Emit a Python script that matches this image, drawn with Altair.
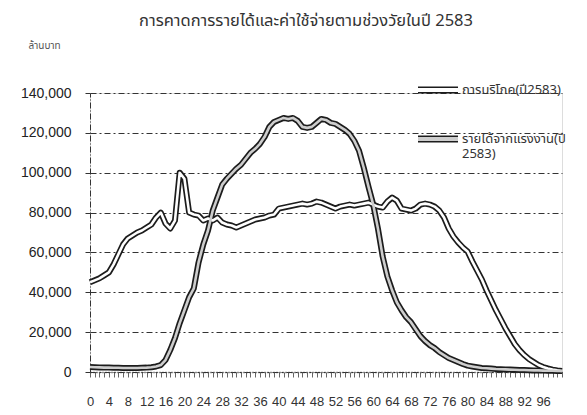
import altair as alt
import pandas as pd

ages = list(range(0, 101))

# การบริโภค (consumption), values, in thousands of million baht
consumption_k = [
    45, 46, 47, 48.5, 50, 54, 59, 64, 67, 68.5,
    70, 71, 72.5, 74, 77.5, 80, 74.5, 72, 76, 100,
    97, 80, 79, 78.5, 76, 77, 76, 77.5, 75, 74,
    73.5, 72.5, 73.5, 74.5, 75.5, 76.5, 77, 77.5, 78.5, 79,
    82, 82.5, 83, 83.5, 84, 84.5, 84, 84.5, 85.5, 85,
    84, 83, 82, 83, 83.5, 84, 83.5, 84, 84.5, 85,
    84, 83, 82.5, 85.5, 87.5, 86, 82, 81.5, 81, 82,
    84, 84.5, 84, 83, 81, 77.5, 72, 68, 65, 62.5,
    60.5, 55.5, 51, 46.5, 41, 36, 31, 26.5, 22, 18,
    14, 11, 8.5, 6.5, 5, 3.5, 2.5, 1.8, 1.2, 0.8,
    0.5,
]

# รายได้จากแรงงาน (labor income)
labor_k = [
    2.5, 2.4, 2.3, 2.2, 2.2, 2.1, 2.1, 2.0, 2.0, 2.0,
    2.0, 2.1, 2.2, 2.4, 2.8, 3.5, 6, 11, 17, 24.5,
    31, 37.5, 42, 55, 64, 71, 81, 87.5, 94, 97,
    99.5, 102, 104, 107, 110, 112, 114.5, 118, 123, 125.5,
    126.5, 127.5, 127, 127.5, 126, 123, 122.5, 123, 125, 127,
    126.5, 125, 124.5, 123, 121.5, 119.5, 116, 111, 102.5, 93,
    84, 72, 58, 48, 41, 35, 31, 27.5, 25, 21.5,
    18, 15.5, 13.5, 12, 10, 8.5, 7, 6, 5, 4,
    3.2, 2.8, 2.4, 2.0, 1.9, 1.7, 1.5, 1.4, 1.3, 1.2,
    1.1, 1.0, 1.0, 0.9, 0.8, 0.8, 0.7, 0.6, 0.6, 0.5,
    0.5,
]

series_names = ["การบริโภค(ปี2583)", "รายได้จากแรงงาน(ปี 2583)"]
series_codes = ["c", "l"]
inner_colors = ["#ffffff", "#cdcdcd"]
outline_colors = ["#1c1c1c", "#1c1c1c"]
title_text = "การคาดการรายได้และค่าใช้จ่ายตามช่วงวัยในปี 2583"
unit_text = "ล้านบาท"
y_ticks = [0, 20000, 40000, 60000, 80000, 100000, 120000, 140000]

rows = []
for a, v in zip(ages, consumption_k):
    rows.append({"age": a, "value": v * 1000, "series": series_names[0], "code": series_codes[0]})
for a, v in zip(ages, labor_k):
    rows.append({"age": a, "value": v * 1000, "series": series_names[1], "code": series_codes[1]})
df = pd.DataFrame(rows)

THAI = "Noto Sans Thai, Loma, Garuda, Tlwg Typo, Norasi, sans-serif"

x_enc = alt.X(
    "age:Q",
    scale=alt.Scale(domain=[0, 100], nice=False, zero=False),
    axis=alt.Axis(
        values=ages,
        labelExpr="datum.value % 4 == 0 && datum.value <= 96 ? datum.label : ''",
        labelFont="Liberation Sans Narrow, Liberation Sans, sans-serif",
        labelFontSize=13,
        labelColor="#333333",
        labelPadding=18,
        labelOverlap=False,
        labelFlush=False,
        labelBound=False,
        tickSize=5,
        tickColor="#666666",
        tickWidth=1,
        domainColor="#333333",
        domainDash=[1, 2],
        domainWidth=1.5,
        grid=False,
        title=None,
    ),
)
y_enc = alt.Y(
    "value:Q",
    scale=alt.Scale(domain=[0, 140000], nice=False),
    axis=alt.Axis(
        values=y_ticks,
        format=",d",
        labelFont="Liberation Sans, Arial, sans-serif",
        labelFontSize=14,
        labelColor="#222222",
        labelPadding=14,
        labelOverlap=False,
        tickSize=5,
        tickColor="#333333",
        domainColor="#333333",
        domainDash=[6, 2, 1, 2],
        grid=True,
        gridColor="#333333",
        gridDash=[6, 3, 2, 3],
        gridWidth=1,
        title=unit_text,
        titleFont=THAI,
        titleFontSize=10,
        titleFontWeight="normal",
        titleColor="#555555",
        titleAngle=0,
        titleAlign="left",
        titleBaseline="middle",
        titleX=-62,
        titleY=-48,
    ),
)

# the labour label wraps onto a second line, as in the reference
LABEL_EXPR = (
    "indexof(['รายได้จากแรงงาน(ปี 2583)', 'l'], datum.label) >= 0 ? "
    "['รายได้จากแรงงาน(ปี', '\u00a0\u00a0\u00a02583)'] : 'การบริโภค(ปี2583)'"
)

OUTLINE_PATH = "M-1,-0.14H1M-1,0.14H1"
FILL_PATH = "M-1,-0.06H1M-1,0H1M-1,0.06H1"


def make_legend(path, label_opacity, z):
    return alt.Legend(
        title=None,
        orient="none",
        legendX=327,
        legendY=-24,
        symbolType=path,
        symbolSize=1600,
        symbolStrokeWidth=1.6,
        symbolOpacity=1,
        labelFont=THAI,
        labelFontSize=13,
        labelColor="#333333",
        labelOpacity=label_opacity,
        labelLimit=200,
        labelOffset=3,
        rowPadding=21,
        padding=0,
        zindex=z,
        labelExpr=LABEL_EXPR,
    )


base = alt.Chart(df)

outer = base.mark_line(strokeWidth=6, strokeJoin="round", strokeCap="butt").encode(
    x=x_enc,
    y=y_enc,
    color=alt.Color(
        "series:N",
        scale=alt.Scale(domain=series_names, range=outline_colors),
        legend=make_legend(OUTLINE_PATH, 1, 1),
    ),
    order="age:Q",
)
inner = base.mark_line(strokeWidth=2.6, strokeJoin="round", strokeCap="butt").encode(
    x=x_enc,
    y=y_enc,
    stroke=alt.Stroke(
        "code:N",
        scale=alt.Scale(domain=series_codes, range=inner_colors),
        legend=make_legend(FILL_PATH, 0, 2),
    ),
    order="age:Q",
)

chart = (
    alt.layer(outer, inner)
    .properties(
        width=472,
        height=279,
        title=alt.TitleParams(
            title_text,
            font=THAI,
            fontSize=16.5,
            fontWeight="normal",
            color="#333333",
            anchor="middle",
            offset=11,
            dx=-20,
        ),
        autosize=alt.AutoSizeParams(type="none"),
        padding={"left": 82, "top": 85, "right": 10, "bottom": 40},
    )
    .configure_view(stroke=None)
    .configure(background="white")
)

chart.save("out.html", embed_options={"renderer": "svg", "actions": False})
